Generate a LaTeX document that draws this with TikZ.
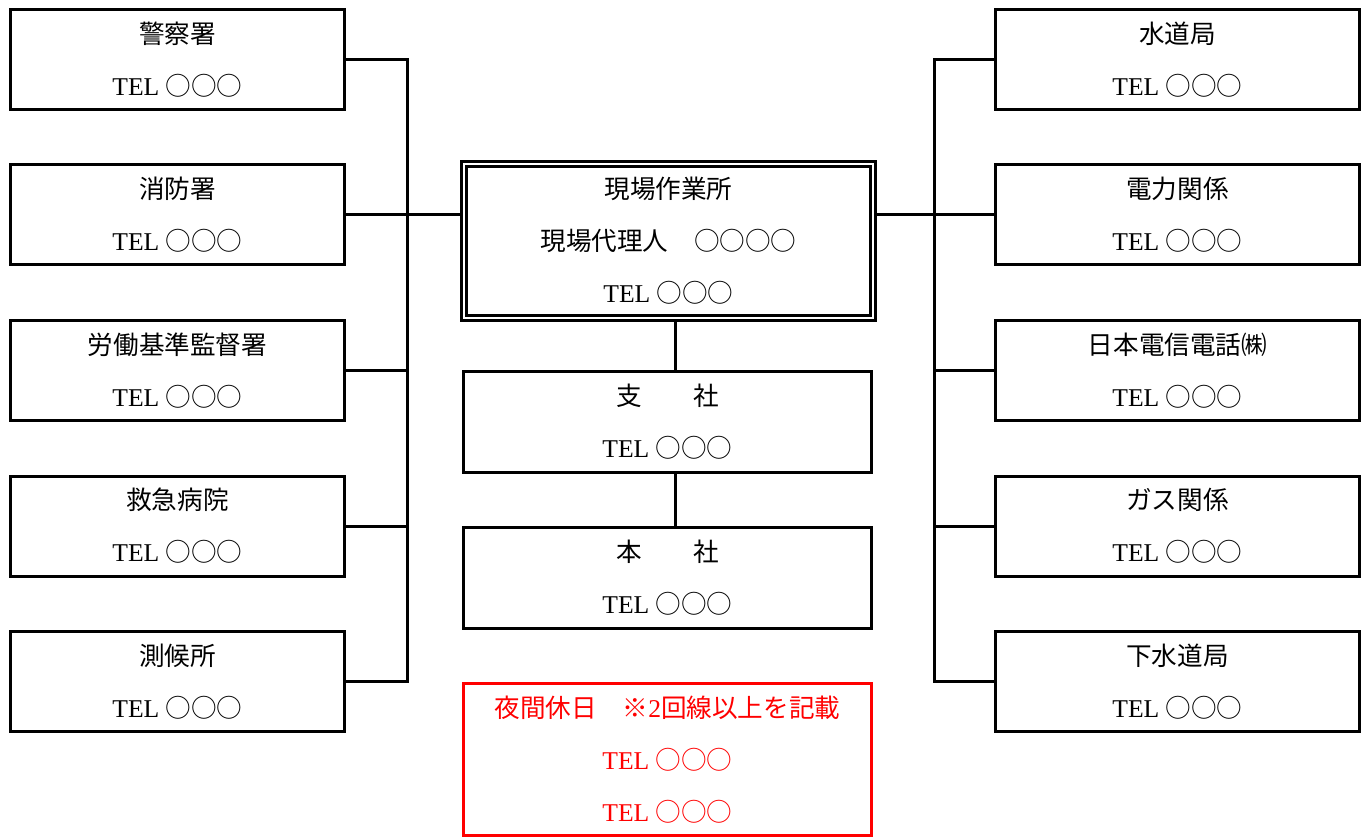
\documentclass[tikz,border=0pt]{standalone}
\usepackage{fontspec}
\setmainfont{Liberation Serif}
\newfontfamily\jp{Noto Sans CJK JP}
\newcommand{\tel}{TEL {\jp ○○○}}
\begin{document}
\begin{tikzpicture}[x=0.5pt,y=-0.5pt,
  box/.style={draw, line width=1.5pt, align=center, inner sep=0pt,
    font=\fontsize{12.8}{26}\selectfont},
  lbox/.style={box, minimum width=167pt, minimum height=50pt},
  rbox/.style={box, minimum width=182pt, minimum height=50pt},
  cbox/.style={box, minimum width=204pt, minimum height=50.5pt},
  link/.style={line width=1.5pt}]
\useasboundingbox (0,0) rectangle (1369,839);
% left column
\node[lbox] (L1) at (177.5,59.5)  {{\jp 警察署}\\\tel};
\node[lbox] (L2) at (177.5,215)   {{\jp 消防署}\\\tel};
\node[lbox] (L3) at (177.5,370.5) {{\jp 労働基準監督署}\\\tel};
\node[lbox] (L4) at (177.5,526)   {{\jp 救急病院}\\\tel};
\node[lbox] (L5) at (177.5,681.5) {{\jp 測候所}\\\tel};
% right column
\node[rbox] (R1) at (1177.5,59.5)  {{\jp 水道局}\\\tel};
\node[rbox] (R2) at (1177.5,215)   {{\jp 電力関係}\\\tel};
\node[rbox] (R3) at (1177.5,370.5) {{\jp 日本電信電話㈱}\\\tel};
\node[rbox] (R4) at (1177.5,526)   {{\jp ガス関係}\\\tel};
\node[rbox] (R5) at (1177.5,681.5) {{\jp 下水道局}\\\tel};
% centre
\node[box, double, double distance=1pt, outer sep=2pt,
  minimum width=204.5pt, minimum height=77pt] (main) at (668.5,241)
  {{\jp 現場作業所}\\{\jp 現場代理人　○○○○}\\\tel};
\node[cbox] (branch) at (667.5,422) {{\jp 支　　社}\\\tel};
\node[cbox] (head) at (667.5,578) {{\jp 本　　社}\\\tel};
\node[box, draw=red, text=red, minimum width=204pt, minimum height=76pt]
  (night) at (667.5,759.5) {{\jp 夜間休日　※}2{\jp 回線以上を記載}\\\tel\\\tel};
% connectors
\coordinate (lb) at (407,0);
\coordinate (rb) at (934,0);
\coordinate (vx) at (675.5,0);
\draw[link] (L1.east) -- (L1.east -| lb) -- (L5.east -| lb) -- (L5.east);
\draw[link] (L2.east) -- (L2.east -| main.west);
\draw[link] (L3.east) -- (L3.east -| lb);
\draw[link] (L4.east) -- (L4.east -| lb);
\draw[link] (R1.west) -- (R1.west -| rb) -- (R5.west -| rb) -- (R5.west);
\draw[link] (R2.west) -- (R2.west -| main.east);
\draw[link] (R3.west) -- (R3.west -| rb);
\draw[link] (R4.west) -- (R4.west -| rb);
\draw[link] (main.south -| vx) -- (branch.north -| vx);
\draw[link] (branch.south -| vx) -- (head.north -| vx);
\end{tikzpicture}
\end{document}
